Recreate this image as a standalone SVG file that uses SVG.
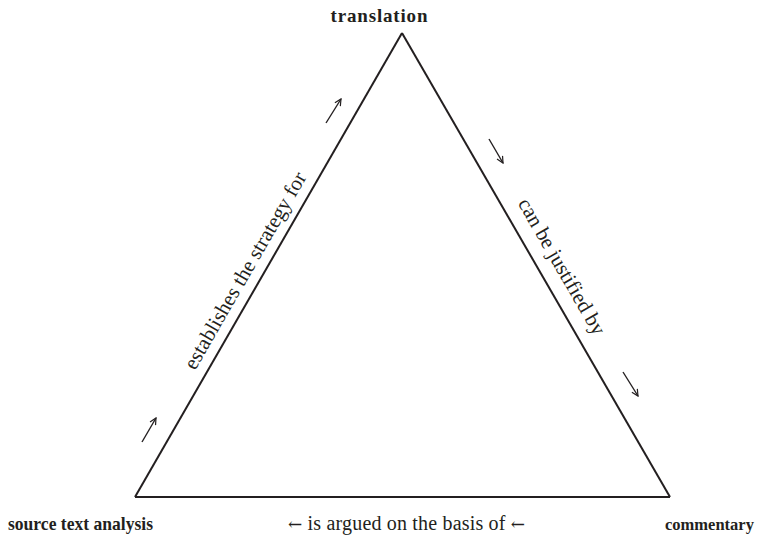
<svg xmlns="http://www.w3.org/2000/svg" width="759" height="538" viewBox="0 0 759 538">
<style>
.node{font-family:"Liberation Serif","Times New Roman",serif;font-weight:bold;font-size:19px;fill:#231f20}
.lbl{font-family:"Liberation Serif","Times New Roman",serif;font-size:21px;fill:#231f20}
.ar{font-family:"DejaVu Serif","Liberation Serif",serif;font-size:17px}
.edge{fill:none;stroke:#231f20;stroke-width:2}
.arr{fill:none;stroke:#231f20;stroke-width:1.4;marker-end:url(#head)}
</style>
<defs>
<marker id="head" viewBox="0 0 10 10" refX="9" refY="5" markerWidth="8" markerHeight="8" markerUnits="userSpaceOnUse" orient="auto">
<path d="M1,1 L9,5 L1,9" fill="none" stroke="#231f20" stroke-width="1.5"/>
</marker>
</defs>
<g id="connectors">
<path class="edge" d="M402,33 L135,497"/>
<path class="edge" d="M402,33 L670,497"/>
<path class="edge" d="M135,497 L670,497"/>
<path class="arr" d="M142,442 L156,418"/>
<path class="arr" d="M326,123 L341,99"/>
<path class="arr" d="M489,139 L503,163"/>
<path class="arr" d="M623,372 L638,396"/>
<text class="lbl" transform="translate(251,274) rotate(-60)" text-anchor="middle" textLength="224" lengthAdjust="spacing">establishes the strategy for</text>
<text class="lbl" transform="translate(556,270) rotate(60)" text-anchor="middle" textLength="154" lengthAdjust="spacing">can be justified by</text>
<text class="lbl" x="406.5" y="530" style="font-size:20px" text-anchor="middle" textLength="237" lengthAdjust="spacing"><tspan class="ar">←</tspan> is argued on the basis of <tspan class="ar">←</tspan></text>
</g>
<g id="translation"><text class="node" x="379" y="22" text-anchor="middle" textLength="97" lengthAdjust="spacing">translation</text></g>
<g id="source"><text class="node" x="8" y="530" textLength="145" lengthAdjust="spacingAndGlyphs">source text analysis</text></g>
<g id="commentary"><text class="node" x="665" y="530" style="font-size:16.5px">commentary</text></g>
</svg>
